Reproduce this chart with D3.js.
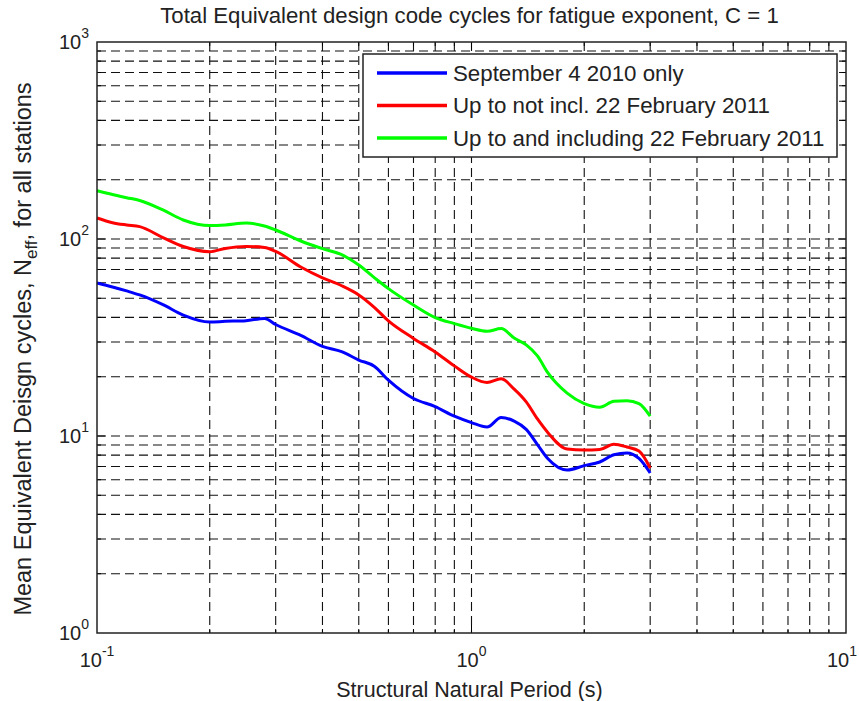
<!DOCTYPE html>
<html><head><meta charset="utf-8">
<script src="https://cdn.jsdelivr.net/npm/d3@7"></script>
<style>body{margin:0;background:#fff;} svg{display:block;font-family:"Liberation Sans",Arial,sans-serif;}</style>
</head><body>
<script>
const periods = [0.1,0.11,0.12,0.13,0.15,0.17,0.2,0.22,0.25,0.28,0.3,0.35,0.4,0.45,0.5,0.55,0.6,0.7,0.8,0.9,1.0,1.1,1.2,1.3,1.4,1.5,1.6,1.8,2.0,2.2,2.4,2.6,2.8,3.0];
const sept2010 = [59.8,57.1,54.5,52.0,46.4,41.1,37.9,38.2,38.5,39.5,36.8,32.4,28.5,26.8,24.3,22.6,19.2,15.5,14.1,12.6,11.7,11.1,12.4,11.9,10.8,9.05,7.66,6.72,7.07,7.38,8.03,8.20,7.69,6.49];
const upToNotIncl = [127.8,121.0,117.8,115.6,101.6,91.6,86.2,89.6,91.7,90.5,86.5,72.1,63.5,57.9,52.0,45.0,38.4,31.3,26.7,22.7,19.9,18.7,19.5,17.3,14.9,12.2,10.4,8.58,8.48,8.53,9.08,8.80,8.39,6.88];
const upToIncl = [175.9,168.2,162.1,156.8,140.4,124.9,117.0,117.8,120.6,116.4,111.1,97.7,89.3,83.3,73.8,63.7,56.0,46.2,39.9,37.2,35.2,34.0,35.1,31.4,29.0,25.5,20.9,16.5,14.6,14.0,15.0,15.1,14.6,12.6];
const seriesNames = ["September 4 2010 only","Up to not incl. 22 February 2011","Up to and including 22 February 2011"];
const seriesColors = ["#0000ff","#ff0000","#00ff00"];
const xTickExps = [-1,0,1];
const yTickExps = [0,1,2,3];
const titleText = "Total Equivalent design code cycles for fatigue exponent, C = 1";
const xLabelText = "Structural Natural Period (s)";

const W=859,H=701;
const m={l:97,r:846,t:42,b:633};
const svg=d3.select("body").append("svg").attr("width",W).attr("height",H);
const x=d3.scaleLog().domain([0.1,10]).range([m.l,m.r]);
const y=d3.scaleLog().domain([1,1000]).range([m.b,m.t]);

const xg=[],yg=[];
for(let e=-1;e<1;e++) for(let k=1;k<10;k++) xg.push(k*Math.pow(10,e));
for(let e=0;e<3;e++) for(let k=1;k<10;k++) yg.push(k*Math.pow(10,e));
const xgi=xg.filter(v=>v>0.1+1e-9);
const ygi=yg.filter(v=>v>1+1e-9);

const g=svg.append("g");
g.selectAll(".gx").data(xgi).enter().append("line")
 .attr("x1",d=>x(d)).attr("x2",d=>x(d)).attr("y1",m.t).attr("y2",m.b)
 .attr("stroke","#111").attr("stroke-width",1.1).attr("stroke-dasharray","9,5");
g.selectAll(".gy").data(ygi).enter().append("line")
 .attr("y1",d=>y(d)).attr("y2",d=>y(d)).attr("x1",m.l).attr("x2",m.r)
 .attr("stroke","#111").attr("stroke-width",1.1).attr("stroke-dasharray","9,5");

const tk=(v)=> (Math.abs(Math.log10(v)-Math.round(Math.log10(v)))<1e-9)?8:4;
g.selectAll(".tb").data(xgi).enter().append("line").attr("x1",d=>x(d)).attr("x2",d=>x(d)).attr("y1",m.b).attr("y2",d=>m.b-tk(d)).attr("stroke","#000");
g.selectAll(".tt").data(xgi).enter().append("line").attr("x1",d=>x(d)).attr("x2",d=>x(d)).attr("y1",m.t).attr("y2",d=>m.t+tk(d)).attr("stroke","#000");
g.selectAll(".tl").data(ygi).enter().append("line").attr("y1",d=>y(d)).attr("y2",d=>y(d)).attr("x1",m.l).attr("x2",d=>m.l+tk(d)).attr("stroke","#000");
g.selectAll(".tr").data(ygi).enter().append("line").attr("y1",d=>y(d)).attr("y2",d=>y(d)).attr("x1",m.r).attr("x2",d=>m.r-tk(d)).attr("stroke","#000");

const all=[sept2010,upToNotIncl,upToIncl];
const line=d3.line().x(d=>x(d[0])).y(d=>y(d[1])).curve(d3.curveMonotoneX);
all.forEach((s,i)=>{
  svg.append("path").datum(periods.map((p,j)=>[p,s[j]])).attr("d",line)
   .attr("fill","none").attr("stroke",seriesColors[i]).attr("stroke-width",3).attr("stroke-linejoin","round");
});

svg.append("rect").attr("x",m.l).attr("y",m.t).attr("width",m.r-m.l).attr("height",m.b-m.t).attr("fill","none").attr("stroke","#222").attr("stroke-width",1.5);

const fs=20;
xTickExps.forEach(e=>{
  const last = e===xTickExps[xTickExps.length-1];
  const t=svg.append("text").attr("x",last?857:x(Math.pow(10,e))).attr("y",667).attr("font-size",fs).attr("fill","#222").attr("text-anchor",last?"end":"middle");
  t.append("tspan").text("10");
  t.append("tspan").attr("dy",-11).attr("font-size",14).text(String(e));
});
yTickExps.forEach(e=>{
  const t=svg.append("text").attr("x",m.l-8).attr("y",y(Math.pow(10,e))+7).attr("font-size",fs).attr("fill","#222").attr("text-anchor","end");
  t.append("tspan").text("10");
  t.append("tspan").attr("dy",-11).attr("font-size",14).text(String(e));
});

svg.append("text").attr("x",(m.l+m.r)/2-2).attr("y",23).attr("text-anchor","middle").attr("font-size",22.2).attr("fill","#222").text(titleText);
svg.append("text").attr("x",(m.l+m.r)/2-2).attr("y",697).attr("text-anchor","middle").attr("font-size",21.5).attr("fill","#222").text(xLabelText);
const yl=svg.append("text").attr("transform","translate(31,349) rotate(-90)").attr("text-anchor","middle").attr("font-size",23.5).attr("fill","#222");
yl.append("tspan").text("Mean Equivalent Deisgn cycles, N");
yl.append("tspan").attr("dy",6).attr("font-size",17).text("eff");
yl.append("tspan").attr("dy",-6).text(", for all stations");

const lg=svg.append("g");
lg.append("rect").attr("x",363).attr("y",54).attr("width",474).attr("height",103).attr("fill","#fff").attr("stroke","#222").attr("stroke-width",1.5);
seriesNames.forEach((n,i)=>{
  const yy=73+i*32.5;
  lg.append("line").attr("x1",377).attr("x2",447).attr("y1",yy).attr("y2",yy).attr("stroke",seriesColors[i]).attr("stroke-width",3.3);
  lg.append("text").attr("x",453).attr("y",yy+7.5).attr("font-size",22.3).attr("fill","#222").text(n);
});
</script>
</body></html>
